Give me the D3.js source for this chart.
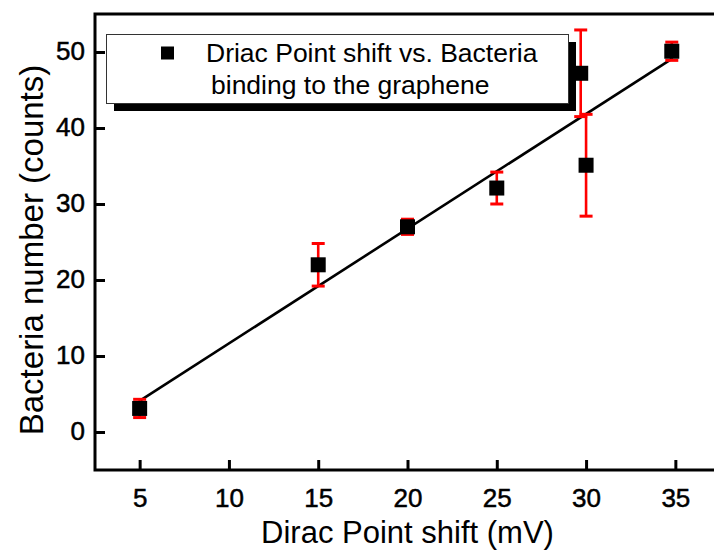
<!DOCTYPE html>
<html>
<head>
<meta charset="utf-8">
<script src="https://cdn.jsdelivr.net/npm/d3@7"></script>
<style>
  html, body { margin: 0; padding: 0; background: #fff; }
  svg { display: block; }
</style>
</head>
<body>
<svg id="chart" width="714" height="556"></svg>
<script>
// ---- data ----
const xValues = [5, 15, 20, 25, 29.7, 30, 34.8];
const yValues = [3.1, 22, 27, 32.1, 47.2, 35.1, 50.1];
const yErrors = [1.2, 2.8, 1.0, 2.1, 5.7, 6.7, 1.2];
const xTicks = [5, 10, 15, 20, 25, 30, 35];
const yTicks = [0, 10, 20, 30, 40, 50];
const fitX = [5, 34.8];
const fitY = [4.1, 49.1];
const legendLines = ["Driac Point shift vs. Bacteria", "binding to the graphene"];
const xTitle = "Dirac Point shift (mV)";
const yTitle = "Bacteria number (counts)";

// ---- layout ----
const svg = d3.select("#chart");
const W = 714, H = 556;
const plot = { left: 95, right: 720, top: 14, bottom: 470 };
const FONT = "'Liberation Sans', Arial, Helvetica, sans-serif";

svg.append("rect").attr("width", W).attr("height", H).attr("fill", "#fff");

const x = d3.scaleLinear().domain([2.5, 37.5]).range([plot.left, plot.right]);
const y = d3.scaleLinear().domain([-5, 55]).range([plot.bottom, plot.top]);

const data = xValues.map((v, i) => ({ x: v, y: yValues[i], e: yErrors[i] }));

// ---- fit line ----
svg.append("line")
  .attr("x1", x(fitX[0])).attr("y1", y(fitY[0]))
  .attr("x2", x(fitX[1])).attr("y2", y(fitY[1]))
  .attr("stroke", "#000").attr("stroke-width", 2.6);

// ---- error bars ----
const eb = svg.append("g").attr("stroke", "#ff0000").attr("stroke-width", 2.6);
data.forEach(d => {
  eb.append("line")
    .attr("x1", x(d.x)).attr("x2", x(d.x))
    .attr("y1", y(d.y - d.e)).attr("y2", y(d.y + d.e));
  [d.y - d.e, d.y + d.e].forEach(v => {
    eb.append("line")
      .attr("x1", x(d.x) - 6.5).attr("x2", x(d.x) + 6.5)
      .attr("y1", y(v)).attr("y2", y(v))
      .attr("stroke-width", 3);
  });
});

// ---- markers ----
const MS = 15;
svg.append("g").selectAll("rect").data(data).join("rect")
  .attr("x", d => x(d.x) - MS / 2)
  .attr("y", d => y(d.y) - MS / 2)
  .attr("width", MS).attr("height", MS)
  .attr("fill", "#000");

// ---- axes ----
const xAxis = d3.axisBottom(x).tickValues(xTicks).tickSizeInner(-10).tickSizeOuter(0).tickPadding(0);
const gx = svg.append("g").attr("transform", `translate(0,${plot.bottom})`).call(xAxis);
gx.select(".domain").remove();
gx.selectAll(".tick line").attr("stroke", "#000").attr("stroke-width", 3);
gx.selectAll(".tick text")
  .attr("font-family", FONT).attr("font-size", 26).attr("fill", "#000")
  .attr("stroke", "#000").attr("stroke-width", 0.5)
  .attr("dy", null).attr("y", 37).attr("text-anchor", "middle");

const yAxis = d3.axisLeft(y).tickValues(yTicks).tickSizeInner(-10).tickSizeOuter(0).tickPadding(0);
const gy = svg.append("g").attr("transform", `translate(${plot.left},0)`).call(yAxis);
gy.select(".domain").remove();
gy.selectAll(".tick line").attr("stroke", "#000").attr("stroke-width", 3);
gy.selectAll(".tick text")
  .attr("font-family", FONT).attr("font-size", 26).attr("fill", "#000")
  .attr("stroke", "#000").attr("stroke-width", 0.5)
  .attr("dy", null).attr("x", -10).attr("y", 7).attr("text-anchor", "end");

// ---- frame ----
svg.append("rect")
  .attr("x", plot.left).attr("y", plot.top)
  .attr("width", plot.right - plot.left).attr("height", plot.bottom - plot.top)
  .attr("fill", "none").attr("stroke", "#000").attr("stroke-width", 3);

// ---- axis titles ----
svg.append("text")
  .attr("x", (plot.left + plot.right) / 2).attr("y", 543)
  .attr("text-anchor", "middle")
  .attr("font-family", FONT).attr("font-size", 31).attr("fill", "#000")
  .text(xTitle);

svg.append("text")
  .attr("transform", `translate(43,${(plot.top + plot.bottom) / 2 + 8}) rotate(-90)`)
  .attr("text-anchor", "middle")
  .attr("font-family", FONT).attr("font-size", 33).attr("fill", "#000")
  .text(yTitle);

// ---- legend ----
const lg = svg.append("g");
lg.append("rect").attr("x", 114).attr("y", 42).attr("width", 462).attr("height", 69).attr("fill", "#000");
lg.append("rect").attr("x", 106.5).attr("y", 34.5).attr("width", 462).attr("height", 69)
  .attr("fill", "#fff").attr("stroke", "#333").attr("stroke-width", 1);
lg.append("rect").attr("x", 161).attr("y", 46.5).attr("width", 13).attr("height", 13).attr("fill", "#000");
lg.append("text").attr("x", 206).attr("y", 62)
  .attr("font-family", FONT).attr("font-size", 26.5).attr("fill", "#000").text(legendLines[0]);
lg.append("text").attr("x", 211).attr("y", 93.5)
  .attr("font-family", FONT).attr("font-size", 26.5).attr("fill", "#000").text(legendLines[1]);
</script>
</body>
</html>
